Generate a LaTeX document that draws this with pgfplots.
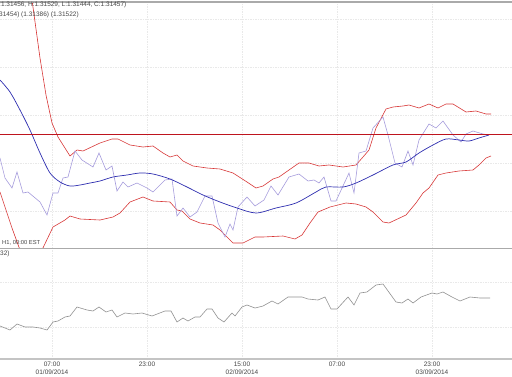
\documentclass[border=0pt]{standalone}
\usepackage{pgfplots}
\pgfplotsset{compat=1.18}
\usepackage{fontspec}
\setmainfont{Liberation Sans}
\definecolor{bandred}{RGB}{215,55,55}
\definecolor{mablue}{RGB}{45,45,175}
\definecolor{pricecol}{RGB}{165,155,220}
\definecolor{pricered}{RGB}{190,20,30}
\definecolor{osc}{RGB}{145,145,145}
\definecolor{gridc}{RGB}{233,233,233}
\definecolor{framec}{RGB}{170,170,170}
\definecolor{txt}{RGB}{70,70,70}
\begin{document}
\begin{tikzpicture}[x=1pt,y=1pt]
\useasboundingbox (0,0) rectangle (512,376);
\pgfplotsset{
  paneset/.style={
    scale only axis, width=512pt, xmin=0, xmax=512,
    axis line style={draw=none},
    major tick length=0pt,
    grid=major,
    grid style={gridc, line width=0.6pt, dash pattern=on 1.5pt off 1pt},
    xtick={52,147,242,337,432},
    clip=true,
  }
}
% top pane
\begin{axis}[paneset, at={(0,128)}, anchor=south west, height=246pt,
  ymin=0, ymax=246, ytick={37,85,133,181,229},
  xticklabels={}, yticklabels={}]
\addplot[bandred, line width=0.6pt] coordinates {
(0,398) (20,308) (32,248) (40,190) (46,153) (52,125) (58,111) (70,92) (77,98) (83,97)
(100,105) (112,109) (118,109) (130,103) (143,101) (153,102) (163,95) (170,91) (177,93)
(183,87) (193,82) (207,80) (220,79) (233,75) (247,66) (256,60) (263,62) (273,69) (279,71)
(289,78) (299,85) (309,85) (319,82) (329,83) (343,81) (356,83) (363,91) (369,98) (376,120)
(386,139) (393,141) (403,142) (409,143) (419,140) (429,144) (438,140) (446,144) (453,144)
(466,136) (476,137) (486,134) (491,134)};
\addplot[bandred, line width=0.6pt] coordinates {
(0,56) (6,38) (12,20) (20,-2) (30,-17) (42,-2) (53,21) (65,28) (70,32) (80,29) (100,28)
(113,31) (120,35) (130,46) (143,51) (153,47) (170,46) (177,38) (182,37) (190,29) (200,25)
(213,23) (220,18) (233,5) (243,5) (255,11) (263,11) (283,12) (295,9) (302,13) (310,25)
(318,36) (330,41) (346,45) (356,44) (366,41) (373,36) (383,26) (389,25) (406,33) (416,45)
(423,55) (429,60) (438,73) (446,75) (459,77) (473,78) (479,83) (486,90) (491,92)};
\addplot[pricecol, line width=0.6pt] coordinates {
(0,90) (5,70) (12,60) (17,76) (23,55) (28,56) (40,46) (47,33) (53,55) (58,55) (63,70)
(68,71) (75,97) (82,88) (93,81) (99,95) (106,78) (112,82) (117,57) (123,66) (128,61)
(137,65) (147,60) (153,56) (165,68) (172,69) (177,32) (183,40) (190,31) (197,36) (205,52)
(212,52) (218,25) (225,11) (230,24) (233,18) (238,41) (247,51) (255,42) (264,48) (271,62)
(278,53) (289,71) (299,74) (308,67) (314,68) (319,65) (324,71) (331,47) (336,47) (349,75)
(354,55) (359,95) (366,97) (373,120) (383,131) (388,113) (395,85) (402,81) (408,97)
(413,83) (419,108) (429,124) (436,120) (443,127) (453,113) (461,106) (466,114) (473,117)
(483,114) (489,113)};
\addplot[mablue, line width=0.7pt, smooth] coordinates {
(0,168) (10,156) (20,138) (30,118) (40,95) (50,75) (60,66) (70,62) (80,63) (90,65)
(100,67) (113,71) (127,73) (140,75) (153,74) (170,69) (187,61) (203,53) (220,46) (237,40)
(256,35) (276,40) (296,45) (316,56) (326,61) (343,61) (356,65) (373,73) (393,83) (406,86)
(419,95) (433,103) (446,109) (459,108) (469,107) (479,110) (489,113)};
\addplot[pricered, line width=0.8pt] coordinates {(0,114) (512,114)};
\draw[framec, line width=1.2pt] (rel axis cs:0,1) -- (rel axis cs:1,1);
\end{axis}
% lower pane
\begin{axis}[paneset, at={(0,17)}, anchor=south west, height=111pt,
  ymin=0, ymax=111, ytick={32,77}, yticklabels={},
  xticklabels={07:00\\01/09/2014, 23:00, 15:00\\02/09/2014, 07:00, 23:00\\03/09/2014},
  xticklabel style={align=center, text=txt, inner sep=1pt, yshift=-2pt,
    font=\fontsize{6.5}{8}\selectfont}]
\addplot[osc, line width=0.6pt] coordinates {
(0,33) (10,29) (17,35) (25,32) (33,32) (40,31) (47,29) (53,37) (58,38) (65,42) (70,43)
(77,52) (87,49) (93,48) (99,52) (106,47) (112,49) (117,42) (125,46) (133,45) (142,46)
(152,43) (165,48) (171,48) (177,37) (183,41) (188,38) (195,42) (200,42) (207,50) (212,50)
(218,41) (224,37) (232,46) (235,43) (242,52) (247,54) (255,51) (263,53) (272,58) (278,55)
(288,62) (302,62) (308,60) (318,59) (325,62) (331,50) (337,50) (348,62) (354,54) (360,66)
(367,67) (376,74) (383,75) (396,57) (402,56) (408,60) (413,56) (421,62) (432,66) (437,65)
(443,67) (452,62) (460,58) (470,62) (480,61) (490,61)};
\draw[framec, line width=1.5pt] (rel axis cs:0,1) -- (rel axis cs:1,1);
\draw[framec!70, line width=1.2pt] (rel axis cs:0,0) -- (rel axis cs:1,0);
\end{axis}
\node[anchor=west, inner sep=0pt, text=txt, font=\fontsize{6.5}{8}\selectfont] at (-1,371) {:1.31456, H:1.31529, L:1.31444, C:1.31457)};
\node[anchor=west, inner sep=0pt, text=txt, font=\fontsize{6.5}{8}\selectfont] at (-1,361) {31454) (1.31386) (1.31522)};
\node[anchor=west, inner sep=0pt, text=txt, font=\fontsize{5.8}{7}\selectfont] at (2,133) {H1, 00:00 EST};
\node[anchor=west, inner sep=0pt, text=txt, font=\fontsize{6.5}{8}\selectfont] at (0,122) {32)};
\end{tikzpicture}
\end{document}
